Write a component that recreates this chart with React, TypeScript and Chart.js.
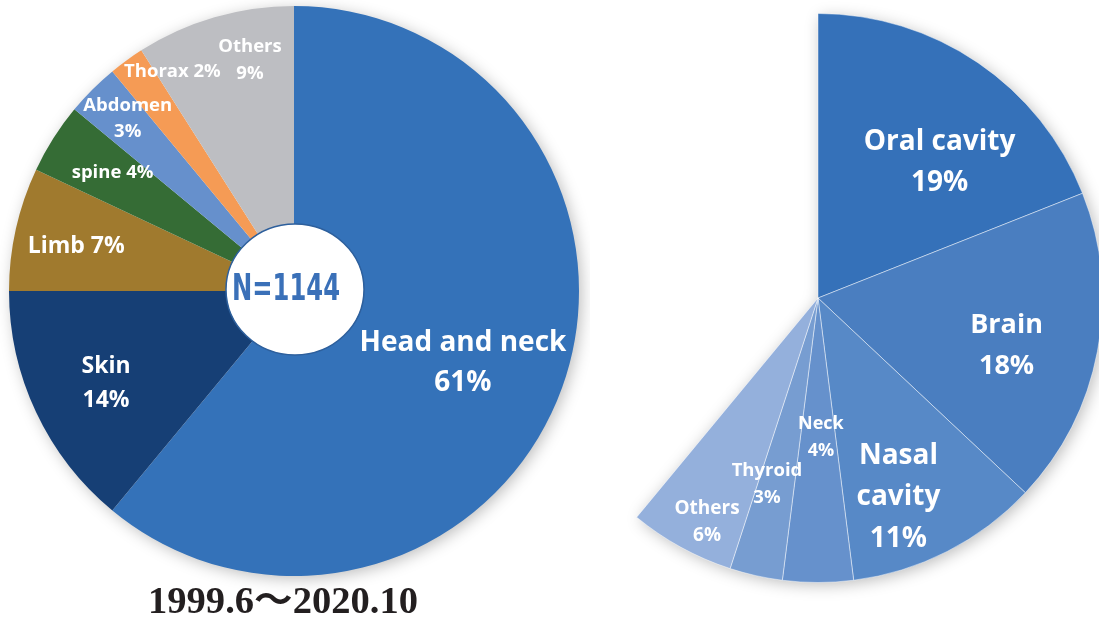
import React, { useEffect, useRef } from "react";
import { Chart, registerables } from "chart.js";

Chart.register(...registerables);

// ---------- data ----------
const overallCategories = ["Head and neck", "Skin", "Limb", "spine", "Abdomen", "Thorax", "Others"];
const overallValues = [61, 14, 7, 4, 3, 2, 9];
const totalCases = "N=1144";
const periodLabel = "1999.6～2020.10";

const headNeckCategories = ["Oral cavity", "Brain", "Nasal cavity", "Neck", "Thyroid", "Others"];
const headNeckValues = [19, 18, 11, 4, 3, 6];

// ---------- styles ----------
const overallColors = ["#3472b9", "#163f75", "#a07a2e", "#356c35", "#6690cc", "#f59b55", "#bdbec2"];
const headNeckColors = ["#3571b9", "#4a7ec0", "#5789c7", "#6691cc", "#779dd1", "#94b0dc"];

type LabelLayout = { mode: "split" | "inline" | "words"; size: number; lh: number; nudge: number; frac: number };

const overallLabelLayout: LabelLayout[] = [
  { mode: "split", size: 28, lh: 40, nudge: 3.4, frac: 0.645 },
  { mode: "split", size: 23, lh: 34, nudge: -1, frac: 0.735 },
  { mode: "inline", size: 23, lh: 0, nudge: -1, frac: 0.78 },
  { mode: "inline", size: 18.5, lh: 0, nudge: 0.7, frac: 0.76 },
  { mode: "split", size: 18.5, lh: 26, nudge: 1, frac: 0.84 },
  { mode: "inline", size: 18.5, lh: 0, nudge: 7, frac: 0.88 },
  { mode: "split", size: 18.5, lh: 27, nudge: 5.4, frac: 0.825 },
];

const headNeckLabelLayout: LabelLayout[] = [
  { mode: "split", size: 28, lh: 41, nudge: 7.7, frac: 0.64 },
  { mode: "split", size: 27, lh: 41, nudge: 3.5, frac: 0.684 },
  { mode: "words", size: 28, lh: 41.5, nudge: 5, frac: 0.755 },
  { mode: "split", size: 18, lh: 27, nudge: -1.2, frac: 0.49 },
  { mode: "split", size: 18.5, lh: 27, nudge: 2.7, frac: 0.68 },
  { mode: "split", size: 19, lh: 27, nudge: -2.5, frac: 0.88 },
];

const LABEL_FONT = "'Open Sans', 'Noto Sans', sans-serif";

function labelLines(cat: string, v: number, mode: string): string[] {
  if (mode === "inline") return [`${cat} ${v}%`];
  if (mode === "words") return [...cat.split(" "), `${v}%`];
  return [cat, `${v}%`];
}

function makeLabelPlugin(id: string, cats: string[], vals: number[], layout: LabelLayout[]) {
  return {
    id,
    afterDatasetsDraw(chart: any) {
      const ctx = chart.ctx as CanvasRenderingContext2D;
      const meta = chart.getDatasetMeta(0);
      ctx.save();
      ctx.fillStyle = "#ffffff";
      ctx.textAlign = "center";
      ctx.textBaseline = "middle";
      cats.forEach((cat, i) => {
        const arc: any = meta.data[i];
        const L = layout[i];
        if (!arc || !L) return;
        const { x, y, startAngle, endAngle, outerRadius } = arc.getProps(
          ["x", "y", "startAngle", "endAngle", "outerRadius"],
          true
        );
        const mid = (startAngle + endAngle) / 2 + (L.nudge * Math.PI) / 180;
        const cx = x + Math.cos(mid) * outerRadius * L.frac;
        const cy = y + Math.sin(mid) * outerRadius * L.frac;
        const lines = labelLines(cat, vals[i], L.mode);
        ctx.font = `bold ${L.size}px ${LABEL_FONT}`;
        const n = lines.length;
        lines.forEach((t, k) => {
          ctx.fillText(t, cx, cy + (k - (n - 1) / 2) * L.lh);
        });
      });
      ctx.restore();
    },
  };
}

function makeShadowPlugin(id: string, count: number) {
  return {
    id,
    beforeDatasetsDraw(chart: any) {
      const ctx = chart.ctx as CanvasRenderingContext2D;
      const meta = chart.getDatasetMeta(0);
      const first: any = meta.data[0];
      const last: any = meta.data[count - 1];
      if (!first || !last) return;
      const p0 = first.getProps(["x", "y", "startAngle", "outerRadius"], true);
      const p1 = last.getProps(["endAngle"], true);
      ctx.save();
      ctx.shadowColor = "rgba(0,0,0,0.28)";
      ctx.shadowBlur = 16;
      ctx.shadowOffsetX = 3;
      ctx.shadowOffsetY = 3;
      ctx.fillStyle = "#ffffff";
      ctx.beginPath();
      ctx.moveTo(p0.x, p0.y);
      ctx.arc(p0.x, p0.y, p0.outerRadius - 1, p0.startAngle, p1.endAngle);
      ctx.closePath();
      ctx.fill();
      ctx.restore();
    },
  };
}

const centerPlugin = {
  id: "centerBadge",
  afterDatasetsDraw(chart: any) {
    const ctx = chart.ctx as CanvasRenderingContext2D;
    const arc: any = chart.getDatasetMeta(0).data[0];
    if (!arc) return;
    const { x, y } = arc.getProps(["x", "y"], true);
    ctx.save();
    ctx.beginPath();
    ctx.ellipse(x + 1, y - 1.5, 69, 65.5, 0, 0, Math.PI * 2);
    ctx.fillStyle = "#ffffff";
    ctx.fill();
    ctx.lineWidth = 1.5;
    ctx.strokeStyle = "#2d5f9c";
    ctx.stroke();
    ctx.font = "bold 38px 'Liberation Sans Narrow', 'DejaVu Sans Condensed', sans-serif";
    ctx.fillStyle = "#3a70b8";
    ctx.textAlign = "center";
    ctx.textBaseline = "alphabetic";
    const w = ctx.measureText(totalCases).width;
    const sx = 108 / w;
    ctx.translate(x - 8, y + 9);
    ctx.scale(sx, 1);
    ctx.fillText(totalCases, 0, 0);
    ctx.restore();

    // period caption under the pie
    ctx.save();
    ctx.font = "bold 37px 'Liberation Serif', 'Noto Sans CJK JP', serif";
    ctx.fillStyle = "#231f20";
    ctx.textAlign = "center";
    ctx.textBaseline = "alphabetic";
    const tw = ctx.measureText(periodLabel).width;
    ctx.translate(x - 11, y + 322);
    ctx.scale(270 / tw, 1);
    ctx.fillText(periodLabel, 0, 0);
    ctx.restore();
  },
};

function OverallPie() {
  const ref = useRef<HTMLCanvasElement>(null);
  useEffect(() => {
    if (!ref.current) return;
    const chart = new Chart(ref.current, {
      type: "pie",
      data: {
        labels: overallCategories,
        datasets: [
          {
            data: overallValues,
            backgroundColor: overallColors,
            borderWidth: 0,
          },
        ],
      },
      options: {
        responsive: false,
        animation: false,
        events: [],
        layout: { padding: { left: 9, top: 6, right: 11, bottom: 44 } },
        plugins: { legend: { display: false }, tooltip: { enabled: false } },
      },
      plugins: [
        makeShadowPlugin("shadowL", overallValues.length),
        makeLabelPlugin("labelsL", overallCategories, overallValues, overallLabelLayout),
        centerPlugin,
      ],
    });
    return () => chart.destroy();
  }, []);
  return (
    <canvas
      ref={ref}
      width={590}
      height={620}
      style={{ position: "absolute", left: 0, top: 0, width: 590, height: 620 }}
    />
  );
}

function HeadNeckPie() {
  const ref = useRef<HTMLCanvasElement>(null);
  useEffect(() => {
    if (!ref.current) return;
    const remainder = 100 - headNeckValues.reduce((a, b) => a + b, 0);
    const chart = new Chart(ref.current, {
      type: "pie",
      data: {
        labels: [...headNeckCategories, ""],
        datasets: [
          {
            data: [...headNeckValues, remainder],
            backgroundColor: [...headNeckColors, "rgba(0,0,0,0)"],
            borderColor: [...headNeckColors.map(() => "rgba(255,255,255,0.45)"), "rgba(0,0,0,0)"],
            borderWidth: [...headNeckColors.map(() => 1), 0],
          },
        ],
      },
      options: {
        responsive: false,
        animation: false,
        events: [],
        layout: { padding: { left: 20, top: 13, right: 10, bottom: 37 } },
        plugins: { legend: { display: false }, tooltip: { enabled: false } },
      },
      plugins: [
        makeShadowPlugin("shadowR", headNeckValues.length),
        makeLabelPlugin("labelsR", headNeckCategories, headNeckValues, headNeckLabelLayout),
      ],
    });
    return () => chart.destroy();
  }, []);
  return (
    <canvas
      ref={ref}
      width={600}
      height={620}
      style={{ position: "absolute", left: 513, top: 0, width: 600, height: 620 }}
    />
  );
}

export default function App() {
  return (
    <div
      style={{
        position: "absolute",
        left: 0,
        top: 0,
        width: 1099,
        height: 620,
        overflow: "hidden",
        background: "#ffffff",
      }}
    >
      <OverallPie />
      <HeadNeckPie />
    </div>
  );
}
